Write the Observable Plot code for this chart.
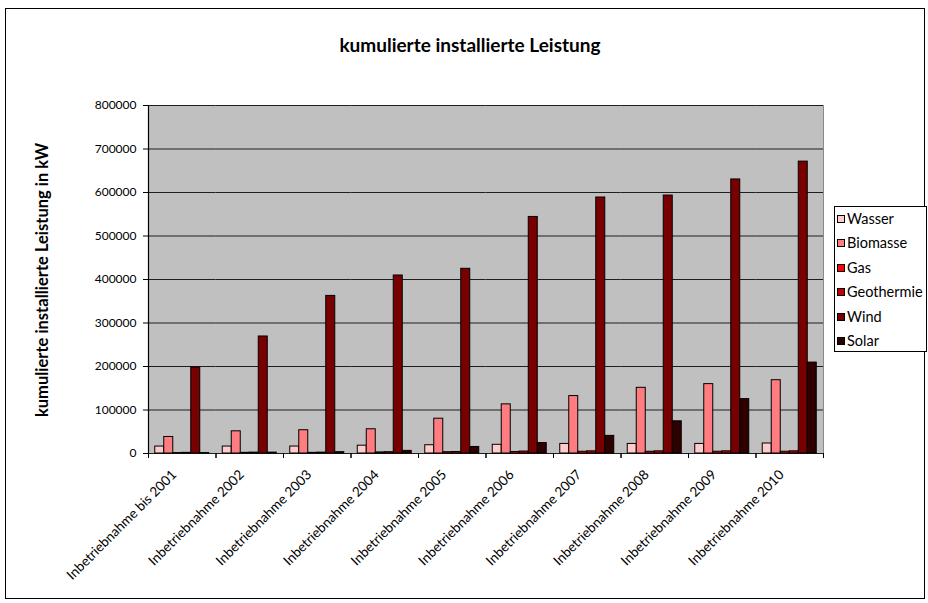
<!DOCTYPE html>
<html>
<head>
<meta charset="utf-8">
<script src="https://cdn.jsdelivr.net/npm/d3@7"></script>
<script src="https://cdn.jsdelivr.net/npm/@observablehq/plot@0.6"></script>
<style>
  body { margin: 0; background: #fff; font-family: Lato, "Open Sans", sans-serif; }
  #wrap { position: relative; width: 928px; height: 603px; overflow: hidden; }
  #wrap svg { position: absolute; left: 0; top: 0; }
  #border { position: absolute; left: 5px; top: 8px; width: 920px; height: 591px; border: 1px solid #000; box-sizing: border-box; pointer-events: none; }
  #title { position: absolute; left: 10px; width: 920px; top: 33px; text-align: center; font-weight: bold; font-size: 19px; color: #000; }
  #ylabel { position: absolute; left: 42px; top: 280px; transform: translate(-50%, -50%) rotate(-90deg); white-space: nowrap; font-weight: bold; font-size: 16.5px; color: #000; }
  #legend { position: absolute; left: 834px; top: 206px; width: 93px; height: 146px; border: 1px solid #000; box-sizing: border-box; background: #fff; }
  .item { position: absolute; left: 2px; height: 18px; line-height: 18px; font-size: 14.5px; white-space: nowrap; color: #000; }
  .sw { display: inline-block; width: 6px; height: 6px; border: 1px solid #000; margin-right: 2px; vertical-align: 1px; }
</style>
</head>
<body>
<div id="wrap">
  <div id="border"></div>
  <div id="title">kumulierte installierte Leistung</div>
  <div id="ylabel">kumulierte installierte Leistung in kW</div>
  <div id="legend"></div>
</div>
<script>
const categories = [
  "Inbetriebnahme bis 2001", "Inbetriebnahme 2002", "Inbetriebnahme 2003",
  "Inbetriebnahme 2004", "Inbetriebnahme 2005", "Inbetriebnahme 2006",
  "Inbetriebnahme 2007", "Inbetriebnahme 2008", "Inbetriebnahme 2009",
  "Inbetriebnahme 2010"
];
const seriesNames = ["Wasser", "Biomasse", "Gas", "Geothermie", "Wind", "Solar"];
const seriesColors = ["#FFCCCC", "#FF7C80", "#FF0000", "#C00000", "#780000", "#2E0000"];

const wasser     = [16000, 16000, 16000, 18000, 19000, 20000, 22000, 22000, 22000, 23000];
const biomasse   = [38000, 51000, 53500, 55700, 80000, 113000, 132000, 151000, 159500, 168500];
const gas        = [1000, 1500, 1500, 2500, 3000, 3500, 4000, 4000, 4000, 4000];
const geothermie = [1500, 2000, 2000, 3000, 3500, 4500, 5000, 5000, 5000, 5000];
const wind       = [197700, 269000, 362300, 409200, 424600, 543800, 588500, 593000, 630000, 671000];
const solar      = [1000, 2000, 3000, 6000, 15000, 24000, 40500, 74000, 125000, 209000];

const yTicks = [0, 100000, 200000, 300000, 400000, 500000, 600000, 700000, 800000];

const seriesValues = [wasser, biomasse, gas, geothermie, wind, solar];
const rows = categories.flatMap((c, ci) =>
  seriesNames.map((s, si) => ({ cat: c, series: s, i: si, value: seriesValues[si][ci] }))
);

const chart = Plot.plot({
  width: 928,
  height: 603,
  marginLeft: 148,
  marginRight: 105,
  marginTop: 105,
  marginBottom: 150,
  style: { fontFamily: "Lato, 'Open Sans', sans-serif", fontSize: "12px", background: "transparent", color: "#000" },
  fx: { domain: categories, padding: 0, round: false, axis: null },
  x: { domain: [-0.75, 6.75], axis: null },
  y: { domain: [0, 800000], ticks: 8, tickFormat: d3.format("d"), tickSize: 5, tickPadding: 7, label: null },
  color: { domain: seriesNames, range: seriesColors },
  marks: [
    Plot.frame({ fill: "#c0c0c0", stroke: "#c0c0c0" }),
    Plot.ruleY(yTicks, { stroke: "#1e1e1e", strokeWidth: 1.2 }),
    Plot.rectY(rows, { fx: "cat", x1: "i", x2: d => d.i + 1, y: "value", fill: "series", stroke: "#000", strokeWidth: 1 }),
    Plot.ruleX([categories[0]], { fx: d => d, x: -0.75, stroke: "#000", strokeWidth: 1.2 }),
    Plot.ruleX([categories[categories.length - 1]], { fx: d => d, x: 6.75, stroke: "#8a8a8a", strokeWidth: 1 }),
    Plot.ruleX(categories, { fx: d => d, x: -0.75, y1: 0, y2: 0, insetBottom: -5, stroke: "#000" }),
    Plot.ruleX(categories, { fx: d => d, x: 6.75, y1: 0, y2: 0, insetBottom: -5, stroke: "#000" }),
    Plot.text(categories, { fx: d => d, x: 3, y: 0, text: d => d, rotate: -45, textAnchor: "end", dx: -8, dy: 19, fontSize: 13.5, fill: "#000" })
  ]
});

document.getElementById("wrap").prepend(chart);

const legend = document.getElementById("legend");
seriesNames.forEach((s, k) => {
  const it = document.createElement("div");
  it.className = "item";
  it.style.top = (3 + k * 24.4) + "px";
  const sw = document.createElement("span");
  sw.className = "sw";
  sw.style.background = seriesColors[k];
  it.appendChild(sw);
  it.appendChild(document.createTextNode(s));
  legend.appendChild(it);
});
</script>
</body>
</html>
